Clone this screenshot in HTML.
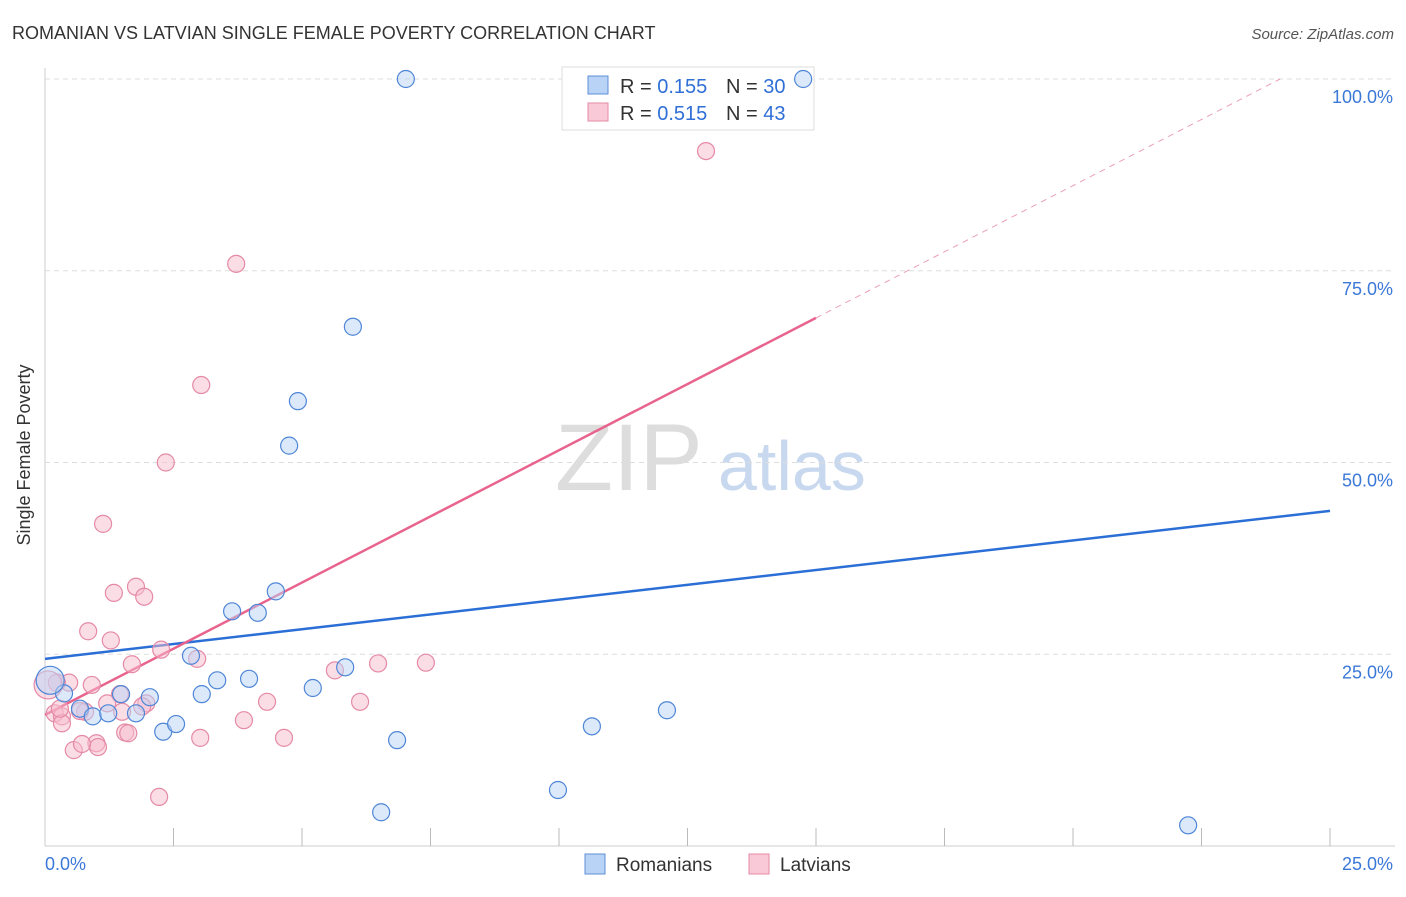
<!DOCTYPE html>
<html><head><meta charset="utf-8"><style>
body{margin:0;background:#fff;font-family:"Liberation Sans",sans-serif}
svg text{font-family:"Liberation Sans",sans-serif}
</style></head><body>
<svg id="c" width="1406" height="892" viewBox="0 0 1406 892">
<text x="12" y="39" font-size="18" fill="#333">ROMANIAN VS LATVIAN SINGLE FEMALE POVERTY CORRELATION CHART</text>
<text x="1394" y="39" font-size="15" fill="#555" font-style="italic" text-anchor="end">Source: ZipAtlas.com</text>
<text x="30" y="455" font-size="18" fill="#333" transform="rotate(-90 30 455)" text-anchor="middle">Single Female Poverty</text>
<text x="555" y="490" font-size="95" fill="#ddd" font-family="Liberation Serif">ZIP</text>
<text x="718" y="490" font-size="70" fill="#c8d8ee">atlas</text>
<g id="grid"></g>
<g>
<rect x="562" y="67" width="252" height="63" fill="#fff" stroke="#ddd"/>
<rect x="588" y="76" width="20" height="18" fill="#b8d3f5" stroke="#5d8fd6"/>
<rect x="588" y="103" width="20" height="18" fill="#f9c9d7" stroke="#e58aa6"/>
<text x="620" y="93" font-size="20" fill="#333">R = <tspan fill="#2f6fd6">0.155</tspan><tspan x="726">N = </tspan><tspan fill="#2f6fd6">30</tspan></text>
<text x="620" y="120" font-size="20" fill="#333">R = <tspan fill="#2f6fd6">0.515</tspan><tspan x="726">N = </tspan><tspan fill="#2f6fd6">43</tspan></text>
</g>
<g id="lines"></g><g id="pts"></g>
<g>
<rect x="585" y="854" width="20" height="20" fill="#b8d3f5" stroke="#5d8fd6"/>
<text x="616" y="871" font-size="19" fill="#333">Romanians</text>
<rect x="749" y="854" width="20" height="20" fill="#f9c9d7" stroke="#e58aa6"/>
<text x="780" y="871" font-size="19" fill="#333">Latvians</text>
</g>
</svg>
<script>
const xTicks=[0,2.5,5,7.5,10,12.5,15,17.5,20,22.5,25];
const yTicks=[25,50,75,100];
const yTickLabels=["25.0%","50.0%","75.0%","100.0%"];
const romX=[7.02,14.75,5.99,4.92,4.75,3.64,4.14,4.49,2.84,3.35,3.97,3.05,2.04,1.48,0.37,0.68,0.93,1.23,1.77,2.30,2.55,5.21,5.84,6.85,6.54,10.64,12.10,9.98,22.24,0.10];
const romY=[100,100,67.7,58.0,52.2,30.6,30.4,33.2,24.8,21.6,21.8,19.8,19.4,19.8,19.9,17.9,16.9,17.3,17.3,14.9,15.9,20.6,23.3,13.8,4.4,15.6,17.7,7.3,2.7,21.6];
const latX=[12.86,3.72,3.04,2.35,1.13,1.77,1.34,1.93,0.84,1.28,2.26,2.96,1.69,5.64,6.48,7.41,0.91,0.47,0.23,1.46,1.21,1.97,1.89,4.32,6.13,0.19,0.33,0.78,1.50,3.87,3.02,4.65,1.56,1.62,1.00,1.03,0.33,0.56,0.72,2.22,0.06,0.29,0.68];
const latY=[90.6,75.9,60.1,50.0,42.0,33.8,33.0,32.5,28.0,26.8,25.6,24.4,23.7,22.9,23.8,23.9,21.0,21.3,21.3,19.8,18.6,18.6,18.2,18.8,18.8,17.3,16.9,17.5,17.5,16.4,14.1,14.1,14.8,14.7,13.4,12.9,16.0,12.5,13.3,6.4,21.0,17.9,17.6];
const romLine=[24.4,43.7];
const latLine=[17.1,3.45];
const X=v=>45+v*51.4, Y=v=>846-v*7.67;
const NS="http://www.w3.org/2000/svg";
function mk(tag,at,parent){const e=document.createElementNS(NS,tag);for(const k in at)e.setAttribute(k,at[k]);document.getElementById(parent).appendChild(e);return e;}
let ax=mk('line',{x1:45,y1:68,x2:45,y2:846,stroke:'#ccc'},'grid');


let bx=mk('line',{x1:45,y1:846,x2:1395,y2:846,stroke:'#ccc'},'grid');


xTicks.forEach((t,i)=>{if(i==0)return;let l=mk('line',{x1:X(t),y1:828,x2:X(t),y2:846,stroke:'#bbb'},'grid');

});
yTicks.forEach((t,i)=>{let l=mk('line',{x1:45,y1:Y(t),x2:1395,y2:Y(t),stroke:'#ddd','stroke-dasharray':'5,4'},'grid');


let tx=mk('text',{x:1393,y:Y(t)+24,'font-size':18,fill:'#3b78d8','text-anchor':'end'},'grid');tx.textContent=yTickLabels[i];

});
let x0=mk('text',{x:45,y:870,'font-size':18,fill:'#3b78d8'},'grid');x0.textContent='0.0%';


let x1=mk('text',{x:1393,y:870,'font-size':18,fill:'#3b78d8','text-anchor':'end'},'grid');x1.textContent='25.0%';


function drawPts(xs,ys,fill,stroke,name){xs.forEach((x,i)=>{const big=(x<0.15&&Math.abs(ys[i]-21)<1.5);
let c=mk('circle',{cx:X(x),cy:Y(ys[i]),r:big?14:8.5,fill:fill,'fill-opacity':0.5,stroke:stroke,'stroke-width':1.2},'pts');

});}
drawPts(latX,latY,'#f7bccd','#e58aa6','latvian-point');
drawPts(romX,romY,'#b8d3f5','#4f86d6','romanian-point');
let bl=mk('line',{x1:X(0),y1:Y(romLine[0]),x2:X(25),y2:Y(romLine[1]),stroke:'#2b6fd6','stroke-width':2.5},'lines');


let pl=mk('line',{x1:X(0),y1:Y(latLine[0]),x2:X(15),y2:Y(latLine[0]+latLine[1]*15),stroke:'#e8638d','stroke-width':2.5},'lines');


const xe=(100-latLine[0])/latLine[1];
let pd=mk('line',{x1:X(15),y1:Y(latLine[0]+latLine[1]*15),x2:X(xe),y2:Y(100),stroke:'#eaa0b8','stroke-width':1,'stroke-dasharray':'6,5'},'lines');


</script>
</body></html>
